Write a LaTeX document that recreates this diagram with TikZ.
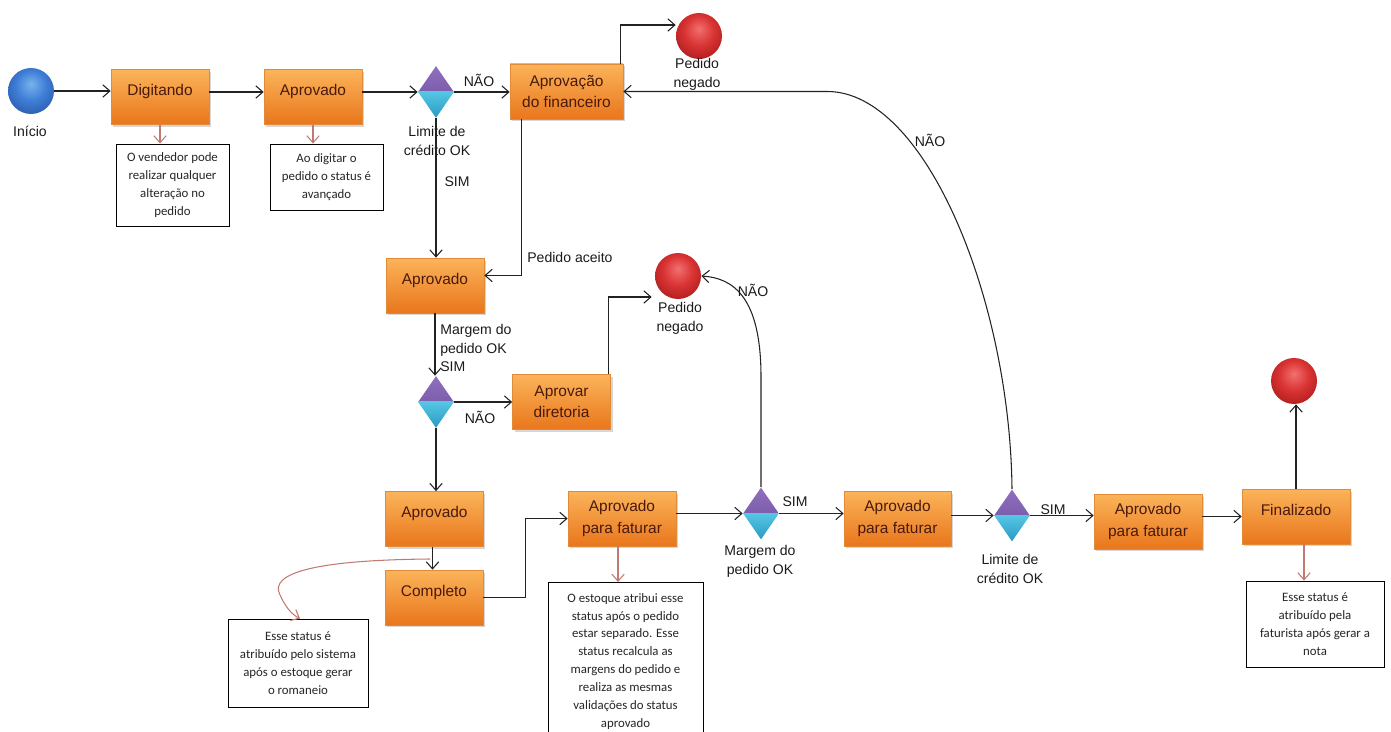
\documentclass[tikz,border=0pt]{standalone}
\usepackage{fontspec}
\setmainfont{Liberation Sans}
\newfontfamily\notefont{Carlito}
\usetikzlibrary{shapes.geometric,arrows.meta,shadows,calc}
\definecolor{boxtop}{HTML}{FBB45A}
\definecolor{boxbot}{HTML}{E9761C}
\definecolor{boxline}{HTML}{E08A3A}
\definecolor{boxtext}{HTML}{4A1A0C}
\definecolor{dtop}{HTML}{8F70BE}
\definecolor{dtopb}{HTML}{6A4A9A}
\definecolor{dbot}{HTML}{55C6E4}
\definecolor{dbotb}{HTML}{2A9AC2}
\definecolor{redin}{HTML}{F27070}
\definecolor{redmid}{HTML}{DA3434}
\definecolor{redout}{HTML}{A81818}
\definecolor{bluein}{HTML}{7AB2EE}
\definecolor{bluemid}{HTML}{3F7FD6}
\definecolor{blueout}{HTML}{2856A8}
\definecolor{notearrow}{HTML}{C07A72}
\definecolor{linecol}{HTML}{222222}
\definecolor{lbltext}{HTML}{1A1A1A}
\pgfdeclareradialshading{redball}{\pgfpoint{0bp}{8bp}}{color(0bp)=(redin); color(16bp)=(redmid); color(34bp)=(redout); color(60bp)=(redout)}
\pgfdeclareradialshading{blueball}{\pgfpoint{0bp}{8bp}}{color(0bp)=(bluein); color(16bp)=(bluemid); color(34bp)=(blueout); color(60bp)=(blueout)}
\begin{document}
\begin{tikzpicture}[x=0.02cm,y=-0.02cm,
  box/.style={rectangle, draw=boxline, line width=0.4pt, top color=boxtop, bottom color=boxbot,
    text=boxtext, font=\fontsize{8.8}{12}\selectfont, align=center,
    minimum width=1.96cm, minimum height=1.1cm, inner sep=1pt,
    drop shadow={shadow xshift=0.04cm, shadow yshift=-0.05cm, opacity=0.16, fill=black}},
  one/.style={text height=2pt, text depth=3.6pt},
  dec/.style={diamond, minimum width=0.72cm, minimum height=1.04cm, inner sep=0pt,
    path picture={
      \shade[top color=dtop, bottom color=dtopb] (path picture bounding box.north west) rectangle (path picture bounding box.east);
      \shade[top color=dbot, bottom color=dbotb] (path picture bounding box.west) rectangle (path picture bounding box.south east);}},
  endc/.style={circle, minimum size=0.92cm, inner sep=0pt, shade, shading=redball},
  startc/.style={circle, minimum size=0.92cm, inner sep=0pt, shade, shading=blueball},
  lbl/.style={font=\fontsize{8}{10.8}\selectfont, text=lbltext, align=center, inner sep=0pt},
  note/.style={draw=black, line width=0.5pt, fill=white, text=black!85,
    font=\notefont\fontsize{7.3}{10.2}\selectfont, align=center, inner sep=1pt},
  arr/.style={draw=linecol, line width=0.6pt, -{Straight Barb[length=4pt,width=7pt]}},
  narr/.style={draw=notearrow, line width=0.6pt, -{Straight Barb[length=4pt,width=7pt]}}
]
\useasboundingbox (0,0) rectangle (1391,732);

% nodes
\node[startc] (start) at (31,91) {};
\node[lbl] (linicio) at (30,131) {Início};
\node[box,one] (dig) at (160,97) {Digitando};
\node[box,one] (ap1) at (313,97) {Aprovado};
\node[dec] (d1) at (436,92) {};
\node[lbl] (ld1) at (437,141) {Limite de\\crédito OK};
\node[lbl] (nao1) at (479,80) {NÃO};
\node[box,minimum width=2.26cm] (fin) at (566.5,91.5) {Aprovação\\do financeiro};
\node[endc] (red1) at (699,36) {};
\node[lbl] (lred1) at (697,74) {Pedido\\negado};
\node[lbl] (sim1) at (457,182) {SIM};
\node[lbl,anchor=west] (aceito) at (527,257) {Pedido aceito};
\node[box,one] (ap2) at (435,285.5) {Aprovado};
\node[lbl,anchor=west,align=left] (marg1) at (440,348) {Margem do\\pedido OK\\SIM};
\node[dec] (d2) at (436,402) {};
\node[lbl] (nao2) at (480,417) {NÃO};
\node[box] (dir) at (561.5,402) {Aprovar\\diretoria};
\node[endc] (red2) at (678,276) {};
\node[lbl] (lred2) at (680,318) {Pedido\\negado};
\node[lbl] (nao3) at (753,290) {NÃO};
\node[box,one] (ap3) at (434.5,519) {Aprovado};
\node[box,one] (comp) at (434,597.5) {Completo};
\node[box,minimum width=2.16cm] (af1) at (622,518.5) {Aprovado\\para faturar};
\node[dec] (d3) at (761,513.5) {};
\node[lbl] (ld3) at (760,561) {Margem do\\pedido OK};
\node[lbl] (sim2) at (795,502) {SIM};
\node[box,minimum width=2.14cm] (af2) at (897.5,518.5) {Aprovado\\para faturar};
\node[dec] (d4) at (1012,515.5) {};
\node[lbl] (ld4) at (1010,569) {Limite de\\crédito OK};
\node[lbl] (sim3) at (1053,510) {SIM};
\node[box,minimum width=2.16cm] (af3) at (1148,521.5) {Aprovado\\para faturar};
\node[box,one,minimum width=2.16cm] (finz) at (1296,516.5) {Finalizado};
\node[endc] (red3) at (1294,381) {};
\node[lbl] (nao4) at (930,140) {NÃO};

% notes
\node[note,minimum width=2.26cm,minimum height=1.64cm] (n1) at (172.5,185) {O vendedor pode\\realizar qualquer\\alteração no\\pedido};
\node[note,minimum width=2.26cm,minimum height=1.32cm] (n2) at (326.5,177) {Ao digitar o\\pedido o status é\\avançado};
\node[note,minimum width=2.8cm,minimum height=1.76cm] (n3) at (298,663) {Esse status é\\atribuído pelo sistema\\após o estoque gerar\\o romaneio};
\node[note,anchor=north,minimum width=3.1cm,minimum height=3.16cm] (n4) at (625.5,582) {O estoque atribui esse\\status após o pedido\\estar separado. Esse\\status recalcula as\\margens do pedido e\\realiza as mesmas\\validações do status\\aprovado};
\node[note,minimum width=2.76cm,minimum height=1.72cm] (n5) at (1315,624) {Esse status é\\atribuído pela\\faturista após gerar a\\nota};

% main connectors
\draw[arr] (start.east) -- (start.east -| dig.west);
\draw[arr] (dig.east |- d1) -- (ap1.west |- d1);
\draw[arr] (ap1.east |- d1) -- (d1.west);
\draw[arr] (d1.east) -- (d1.east -| fin.west);
\draw[arr] ([xshift=-0.06cm]fin.north east) |- ([yshift=0.22cm]red1.west);
\draw[arr] ([xshift=0.24cm]fin.south west) |- ([yshift=0.2cm]ap2.east);
\draw[arr] (d1.south) -- (d1.south |- ap2.north);
\draw[arr] (ap2.south) -- (ap2.south |- d2.north);
\draw[arr] (d2.east) -- (d2.east -| dir.west);
\draw[arr] ([xshift=-0.04cm]dir.north east) |- ([xshift=-0.06cm,yshift=-0.42cm]red2.west);
\draw[arr] (d2.south) -- (d2.south |- ap3.north);
\draw[arr] ([xshift=-0.04cm]ap3.south) -- ([xshift=-0.04cm]ap3.south |- comp.north);
\draw[arr] (comp.east) -| ($(comp.east)!0.5!(af1.west)$) |- (af1.west);
\draw[arr] (af1.east |- d3) -- (d3.west);
\draw[arr] (d3.east) -- (d3.east -| af2.west);
\draw[arr] (af2.east |- d4) -- (d4.west);
\draw[arr] (d4.east) -- (d4.east -| af3.west);
\draw[arr] (af3.east |- finz) -- (finz.west);
\draw[arr] (finz.north) -- (finz.north |- red3.south);
\draw[arr] (d3.north) -- ++(0,-110) .. controls +(0,-80) and +(32,2) .. (red2.east);
\draw[arr] (d4.north) .. controls +(-2,-190) and +(98,0) .. ([xshift=4.08cm]fin.east) -- (fin.east);

% note connectors
\draw[narr] (dig.south) -- (dig.south |- n1.north);
\draw[narr] (ap1.south) -- (ap1.south |- n2.north);
\draw[narr] ([xshift=-0.08cm]af1.south) -- ([xshift=-0.08cm]af1.south |- n4.north);
\draw[narr] ([xshift=0.16cm]finz.south) -- ([xshift=0.16cm]finz.south |- n5.north);
\coordinate (cn) at (430,559);
\draw[narr] (cn) .. controls (320,560) and (268,572) .. (280,595) .. controls (285,606) and (291,614) .. ([xshift=0.04cm]n3.north);
\end{tikzpicture}
\end{document}
